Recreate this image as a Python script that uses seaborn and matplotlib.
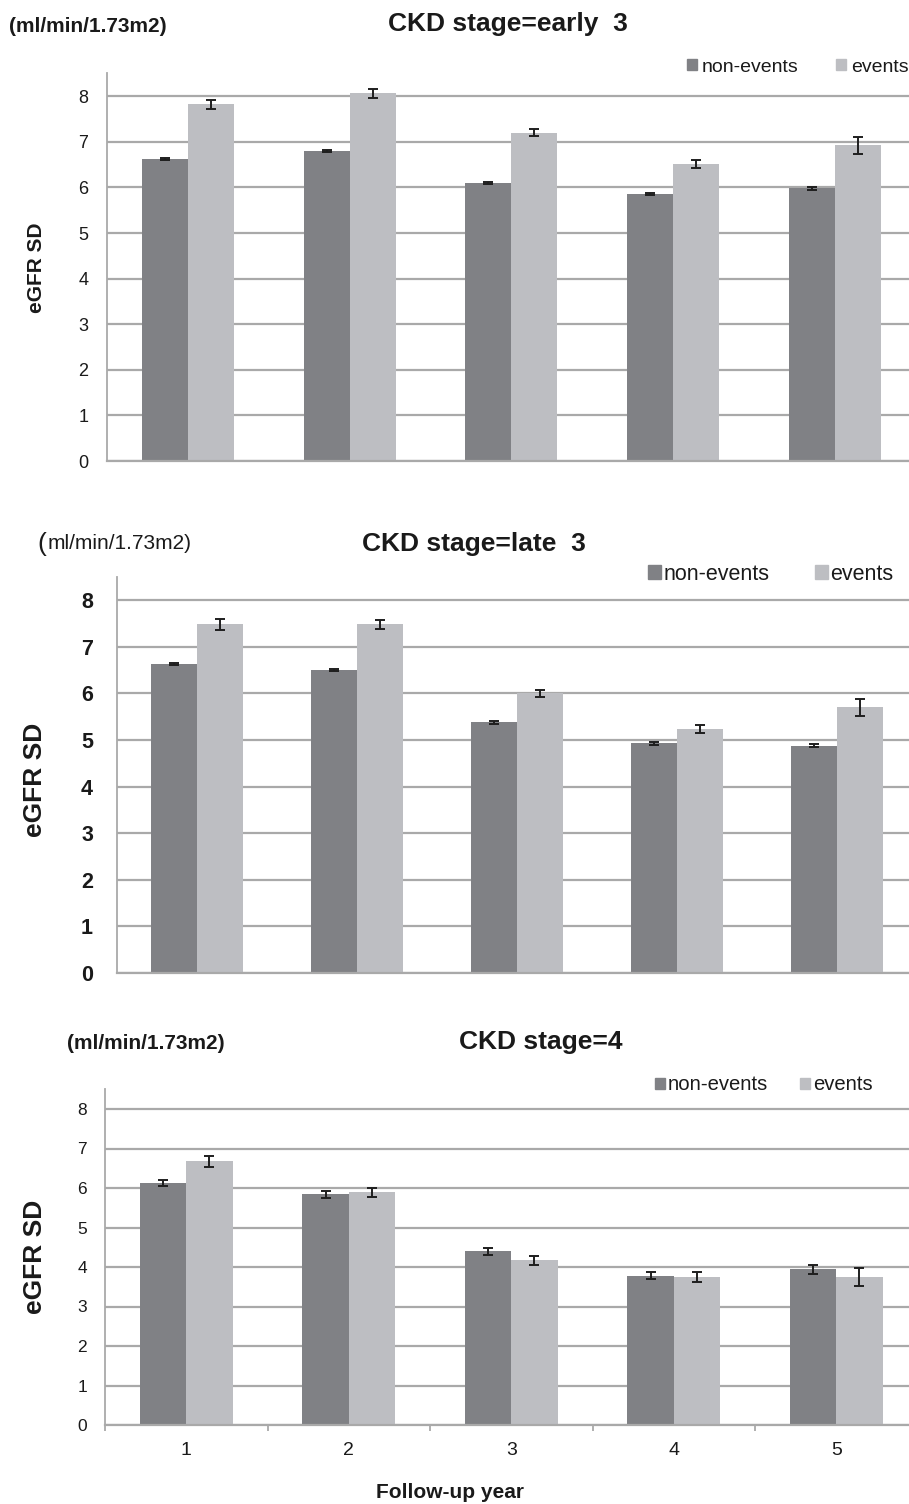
import numpy as np
import pandas as pd
import matplotlib
matplotlib.use("Agg")
import matplotlib.pyplot as plt
from matplotlib.patches import Patch
from matplotlib.ticker import FixedLocator
import seaborn as sns

# ── DATA ──────────────────────────────────────────────────────────────────────
YEARS  = ["1", "2", "3", "4", "5"]
GROUPS = ["non-events", "events"]

early3_non     = [6.62, 6.80, 6.10, 5.86, 5.98]
early3_non_err = [0.02, 0.02, 0.02, 0.02, 0.03]
early3_evt     = [7.82, 8.06, 7.20, 6.52, 6.92]
early3_evt_err = [0.10, 0.09, 0.07, 0.09, 0.19]

late3_non      = [6.63, 6.50, 5.38, 4.93, 4.88]
late3_non_err  = [0.03, 0.03, 0.03, 0.03, 0.03]
late3_evt      = [7.48, 7.48, 6.00, 5.24, 5.70]
late3_evt_err  = [0.12, 0.10, 0.08, 0.085, 0.18]

st4_non        = [6.13, 5.84, 4.40, 3.78, 3.94]
st4_non_err    = [0.085, 0.085, 0.085, 0.09, 0.12]
st4_evt        = [6.68, 5.89, 4.17, 3.74, 3.75]
st4_evt_err    = [0.14, 0.12, 0.11, 0.13, 0.22]

TITLES = ["CKD stage=early  3", "CKD stage=late  3", "CKD stage=4"]
UNITS  = "(ml/min/1.73m2)"

# ── STYLE ─────────────────────────────────────────────────────────────────────
sns.set_theme(style="white")
plt.rcParams["font.family"] = ["Liberation Sans", "DejaVu Sans"]

DARK, LIGHT = "#808185", "#bdbec2"
GRID = "#a9a9a9"
INK = "#1a1a1a"
W, H = 909, 1504


def fx(px): return px / W
def fy(py): return 1 - py / H


def frame(non, evt):
    return pd.DataFrame({
        "year":  YEARS * 2,
        "group": [GROUPS[0]] * 5 + [GROUPS[1]] * 5,
        "sd":    list(non) + list(evt),
    })


def panel(fig, px_left, px_zero, unit_px, cat_px, non, evt, non_err, evt_err,
          tick_size, tick_bold, tick_len, tick_pad):
    height = 8.5 * unit_px
    width = W - px_left
    ax = fig.add_axes([px_left / W, (H - px_zero) / H, width / W, height / H])
    sns.barplot(data=frame(non, evt), x="year", y="sd", hue="group",
                hue_order=GROUPS, palette=[DARK, LIGHT], width=0.57,
                errorbar=None, legend=False, saturation=1, ax=ax,
                edgecolor="none", linewidth=0)
    for cont, err in zip(ax.containers, [non_err, evt_err]):
        xs = [b.get_x() + b.get_width() / 2 for b in cont]
        ys = [b.get_height() for b in cont]
        ax.errorbar(xs, ys, yerr=err, fmt="none", ecolor="#1e1e1e",
                    elinewidth=1.4, capsize=3.3, capthick=1.4, zorder=5)
    ax.set_ylim(0, 8.5)
    ax.set_xlim(-0.5, -0.5 + width / cat_px)
    ax.set_yticks(range(0, 9))
    ax.yaxis.grid(True, color=GRID, lw=1.6)
    ax.set_axisbelow(True)
    for s in ["top", "right"]:
        ax.spines[s].set_visible(False)
    ax.spines["left"].set_color(GRID)
    ax.spines["left"].set_linewidth(1.3)
    ax.spines["bottom"].set_color(GRID)
    ax.spines["bottom"].set_linewidth(1.6)
    ax.tick_params(axis="y", length=tick_len, width=1.3, color=GRID,
                   pad=tick_pad, labelsize=tick_size, labelcolor=INK)
    if tick_bold:
        for t in ax.get_yticklabels():
            t.set_fontweight("bold")
    ax.set_xlabel("")
    ax.set_ylabel("")
    return ax


fig = plt.figure(figsize=(W / 100, H / 100), dpi=100)

# ── PANEL 1 ───────────────────────────────────────────────────────────────────
ax1 = panel(fig, 107, 461, 45.6, 161.75, early3_non, early3_evt,
            early3_non_err, early3_evt_err, 13, False, 5, 8.5)
ax1.set_xticks([])

# ── PANEL 2 ───────────────────────────────────────────────────────────────────
ax2 = panel(fig, 117, 973, 46.6, 160, late3_non, late3_evt,
            late3_non_err, late3_evt_err, 15.5, True, 5.8, 11.5)
ax2.set_xticks([])

# ── PANEL 3 ───────────────────────────────────────────────────────────────────
ax3 = panel(fig, 105, 1425, 39.5, 162.5, st4_non, st4_evt,
            st4_non_err, st4_evt_err, 12.5, False, 4.3, 8.6)
ax3.xaxis.set_minor_locator(FixedLocator(np.arange(-0.5, 5, 1.0)))
ax3.tick_params(axis="x", which="major", length=0, pad=12.5, labelsize=14,
                labelcolor=INK)
ax3.tick_params(axis="x", which="minor", length=4.3, width=1.3, color=GRID,
                direction="out", bottom=True)

# ── TEXTS ─────────────────────────────────────────────────────────────────────
fig.text(fx(9), fy(32), UNITS, fontsize=15, fontweight="bold",
         va="baseline", ha="left", color=INK)
fig.text(fx(508), fy(31), TITLES[0], fontsize=19, fontweight="bold",
         va="baseline", ha="center", color=INK)
fig.text(fx(36), fy(268), "eGFR SD", fontsize=15, fontweight="bold",
         rotation=90, va="center", ha="center", color=INK)

fig.text(fx(37), fy(551), "(", fontsize=19, va="baseline", ha="left",
         color=INK)
fig.text(fx(48), fy(549), UNITS[1:], fontsize=15, va="baseline", ha="left",
         color=INK)
fig.text(fx(474), fy(551), TITLES[1], fontsize=19, fontweight="bold",
         va="baseline", ha="center", color=INK)
fig.text(fx(35), fy(780), "eGFR SD", fontsize=19, fontweight="bold",
         rotation=90, va="center", ha="center", color=INK)

fig.text(fx(67), fy(1049), UNITS, fontsize=15, fontweight="bold",
         va="baseline", ha="left", color=INK)
fig.text(fx(541), fy(1049), TITLES[2], fontsize=19, fontweight="bold",
         va="baseline", ha="center", color=INK)
fig.text(fx(35), fy(1257), "eGFR SD", fontsize=19, fontweight="bold",
         rotation=90, va="center", ha="center", color=INK)
fig.text(fx(450), fy(1492), "Follow-up year", fontsize=15,
         fontweight="bold", va="center", ha="center", color=INK)

# ── LEGENDS ───────────────────────────────────────────────────────────────────
handles = [Patch(color=DARK), Patch(color=LIGHT)]
for ax, left, ypx, size, hl, pad, gap in [(ax1, 687, 67, 14, 0.52, 0.25, 1.9),
                                          (ax2, 648, 574, 15.5, 0.6, 0.1, 2.15),
                                          (ax3, 655, 1085, 14.6, 0.5, 0.15, 1.55)]:
    leg = ax.legend(handles, GROUPS, ncol=2, frameon=False, fontsize=size,
                    handlelength=hl, handleheight=hl, handletextpad=pad,
                    columnspacing=gap, loc="center left",
                    bbox_to_anchor=(fx(left), fy(ypx)),
                    bbox_transform=fig.transFigure, borderaxespad=0,
                    borderpad=0)
    for t in leg.get_texts():
        t.set_color(INK)

fig.savefig("out.png", dpi=100)
